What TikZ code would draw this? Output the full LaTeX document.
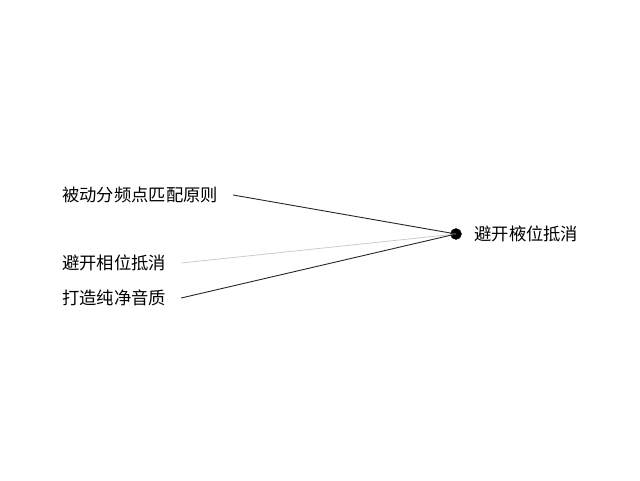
\documentclass[tikz,border=0pt]{standalone}
\usepackage{fontspec}
\setmainfont{Noto Sans CJK SC}
\usetikzlibrary{positioning}

\begin{document}
\begin{tikzpicture}[%%
  x=1pt,y=1pt,
  lineStyle/.style={-,line width=0.9pt,black!85},%%
  faintStyle/.style={-,line width=0.8pt,black!20},%%
  nodeStyle/.style={draw,inner sep=0pt,minimum size=11pt,circle,fill=black,black},%%
  labelStyle/.style={inner xsep=15pt,inner ysep=2pt,anchor=west,font=\fontsize{17.3}{20}\selectfont}
]
%%
%% The canvas.
\useasboundingbox (0,0) rectangle (640,480);
%%
%% The hub where the lines meet.
\coordinate (hub) at (456,246);
\node[nodeStyle] (dot) at (hub) {};
\node[labelStyle,right=-2.5pt of dot] (target) {避开棭位抵消};
%%
%% The labels on the left.
\node[labelStyle] (match) at (47,285) {被动分频点匹配原则};
\node[labelStyle] (phase) at (47,217) {避开相位抵消};
\node[labelStyle] (pure) at (47,182) {打造纯净音质};
%%
%% Draw the lines to the hub.
\draw[lineStyle] (match.east) -- (hub);
\draw[faintStyle] (phase.east) -- (hub);
\draw[lineStyle] (pure.east) -- (hub);
\end{tikzpicture}
\end{document}
